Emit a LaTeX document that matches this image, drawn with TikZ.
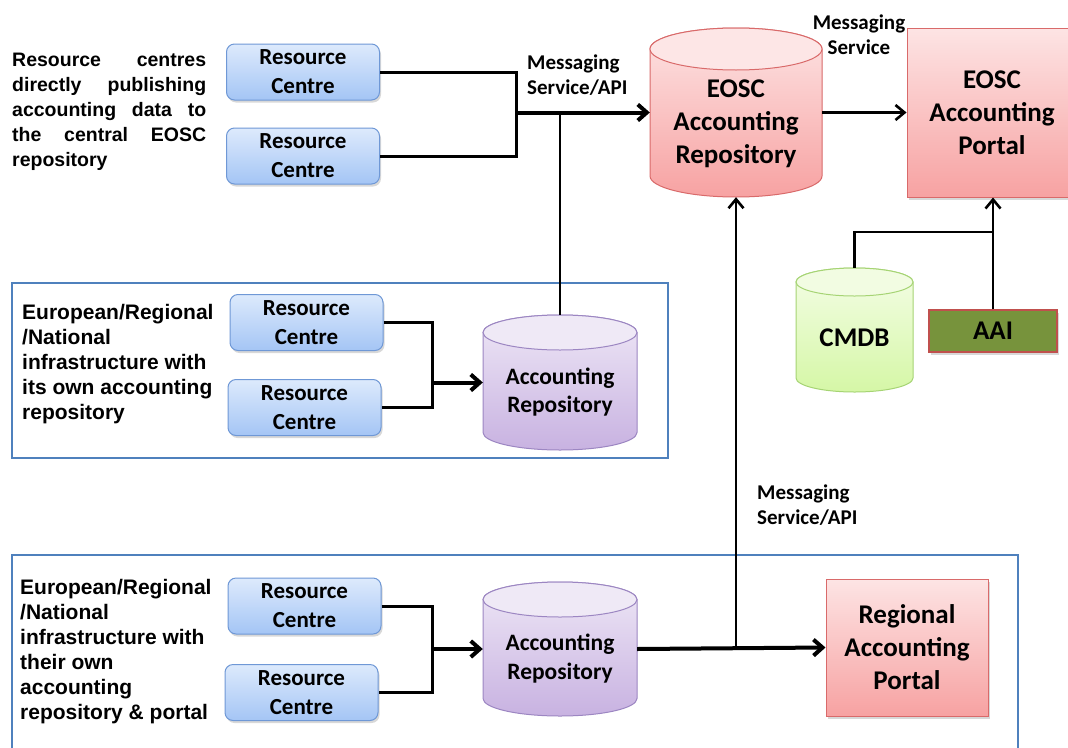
\documentclass[tikz,border=0pt]{standalone}
\usepackage{fontspec}
\setmainfont{Liberation Sans}
\newfontfamily\calfont{Carlito}
\usetikzlibrary{arrows.meta,shadows}
\definecolor{rcTop}{HTML}{DDEAFC}
\definecolor{rcBot}{HTML}{A4C5F5}
\definecolor{rcBorder}{HTML}{6F98D6}
\definecolor{pkTop}{HTML}{FDE4E4}
\definecolor{pkBot}{HTML}{F7A2A2}
\definecolor{pkCap}{HTML}{FDE6E6}
\definecolor{pkBorder}{HTML}{D96A6A}
\definecolor{grTop}{HTML}{F4FDE6}
\definecolor{grBot}{HTML}{D5F7A6}
\definecolor{grCap}{HTML}{F2FCE2}
\definecolor{grBorder}{HTML}{A6D474}
\definecolor{puTop}{HTML}{EEE7F6}
\definecolor{puBot}{HTML}{C8B2E1}
\definecolor{puCap}{HTML}{EFE9F6}
\definecolor{puBorder}{HTML}{9C86C2}
\definecolor{aaiFill}{HTML}{77933C}
\definecolor{aaiBorder}{HTML}{C0504D}
\definecolor{frameBlue}{HTML}{4F81BD}
\newcommand\cyldraw[6]{%
  \shade[top color=#6Top, bottom color=#6Bot, draw=#6Border, line width=1pt]
    (#1-#3, #2-#4+#5) -- (#1-#3, #2+#4-#5)
    arc[start angle=180, end angle=360, x radius=#3pt, y radius=#5pt]
    -- (#1+#3, #2-#4+#5)
    arc[start angle=0, end angle=180, x radius=#3pt, y radius=#5pt] -- cycle;
  \draw[fill=#6Cap, draw=#6Border, line width=1pt]
    (#1, #2-#4+#5) ellipse[x radius=#3pt, y radius=#5pt];
}
\tikzset{
  rcbox/.style={draw=rcBorder, line width=1pt, rounded corners=8pt,
    top color=rcTop, bottom color=rcBot, minimum width=153pt, minimum height=56pt,
    inner sep=0pt, align=center,
    font=\calfont\bfseries\fontsize{23}{29}\selectfont,
    drop shadow={opacity=0.3, shadow xshift=1.5pt, shadow yshift=-2.5pt}},
  cylarea/.style={inner sep=0pt, draw=none},
  bigtext/.style={align=center, inner sep=0pt, font=\calfont\bfseries\fontsize{27}{33}\selectfont},
  midtext/.style={align=center, inner sep=0pt, font=\calfont\bfseries\fontsize{23.5}{28.5}\selectfont},
  portalbox/.style={draw=pkBorder, line width=1pt, top color=pkTop, bottom color=pkBot,
    inner sep=0pt, align=center, font=\calfont\bfseries\fontsize{27}{33}\selectfont,
    drop shadow={opacity=0.3, shadow xshift=1.5pt, shadow yshift=-2.5pt}},
  msglabel/.style={align=left, inner sep=0pt, font=\calfont\bfseries\fontsize{21}{25}\selectfont},
  sidetext/.style={align=left, inner sep=0pt, font=\bfseries\fontsize{21}{25}\selectfont},
  frame/.style={draw=frameBlue, line width=2pt},
  conn/.style={line width=3pt, line join=miter},
  thickarr/.style={line width=4pt, -{Straight Barb[length=9pt,width=16pt]}},
  thinarr/.style={line width=2.6pt, -{Straight Barb[length=9pt,width=15pt]}},
  thinline/.style={line width=2.6pt},
}
\begin{document}
\begin{tikzpicture}[x=1pt,y=-1pt]
\useasboundingbox (0,0) rectangle (1068,747);
\fill[white] (0,0) rectangle (1068,747);

% frames
\draw[frame] (12,283) rectangle (668,458);
\draw[frame] (12,752) -- (12,555) -- (1018,555) -- (1018,752);

% ---------- top section ----------
\node[anchor=west, align=left, inner sep=0pt, font=\bfseries\fontsize{19.5}{25}\selectfont] (toptext) at (12,112) {%
\makebox[194pt][s]{Resource\hfill centres}\\
\makebox[194pt][s]{directly\hfill publishing}\\
\makebox[194pt][s]{accounting\hfill data\hfill to}\\
\makebox[194pt][s]{the\hfill central\hfill EOSC}\\
repository};

\node[rcbox] (rc1) at (303,72) {Resource\\Centre};
\node[rcbox] (rc2) at (303,156) {Resource\\Centre};

% EOSC accounting repository
\cyldraw{736}{112.5}{86}{84.5}{21}{pk}
\node[cylarea, minimum width=172pt, minimum height=169pt] (eosc) at (736,112.5) {};
\node[bigtext] (eosctext) at (736,124) {EOSC\\Accounting\\Repository};

% EOSC accounting portal
\node[portalbox, minimum width=170pt, minimum height=169pt] (portal) at (992,112.5) {EOSC\\Accounting\\Portal};

% CMDB
\cyldraw{854.5}{330}{58.5}{62}{14}{gr}
\node[cylarea, minimum width=117pt, minimum height=124pt] (cmdb) at (854.5,330) {};
\node[bigtext] (cmdbtext) at (854.5,338) {CMDB};

% AAI
\node[draw=aaiBorder, line width=1.2pt, fill=aaiFill, minimum width=128pt, minimum height=42pt,
  inner sep=0pt, font=\calfont\bfseries\fontsize{27}{33}\selectfont,
  drop shadow={opacity=0.3, shadow xshift=1.5pt, shadow yshift=-2.5pt}] (aai) at (993,331) {AAI};

% labels
\node[msglabel, anchor=west] (msg1) at (527,75.5) {Messaging\\Service/API};
\node[msglabel, align=center] (msg2) at (859,35) {Messaging\\Service};
\node[msglabel, anchor=west] (msg3) at (757,505) {Messaging\\Service/API};

% ---------- middle section ----------
\node[sidetext, anchor=west] (midtextl) at (22,364) {European/Regional\\/National\\infrastructure with\\its own accounting\\repository};
\node[rcbox] (rc3) at (306.5,322.5) {Resource\\Centre};
\node[rcbox] (rc4) at (304.5,407.5) {Resource\\Centre};
\cyldraw{560}{382.5}{77}{67.5}{17.5}{pu}
\node[cylarea, minimum width=154pt, minimum height=135pt] (acc1) at (560,382.5) {};
\node[midtext] (acc1text) at (560,392) {Accounting\\Repository};

% ---------- bottom section ----------
\node[sidetext, anchor=west] (bottextl) at (20,652) {European/Regional\\/National\\infrastructure with\\their own\\accounting\\repository \& portal};
\node[rcbox] (rc5) at (304.5,606) {Resource\\Centre};
\node[rcbox] (rc6) at (301.5,692.5) {Resource\\Centre};
\cyldraw{560}{649}{77}{67}{17.5}{pu}
\node[cylarea, minimum width=154pt, minimum height=134pt] (acc2) at (560,649) {};
\node[midtext] (acc2text) at (560,658.5) {Accounting\\Repository};
\node[portalbox, minimum width=162pt, minimum height=137pt] (regportal) at (907,647.5) {Regional\\Accounting\\Portal};

% ---------- connectors ----------
\coordinate (jt) at (516,112.5);
\draw[conn] (rc1.east) -| (jt) |- (rc2.east);
\draw[thickarr] (jt) -- (eosc.west);
\draw[thinline] (acc1.north) -- (acc1.north |- jt);
\draw[thinarr] (eosc.east) -- (portal.west);

\coordinate (cj) at (aai.north |- 0,232);
\draw[thinarr] (aai.north) -- (aai.north |- portal.south);
\draw[thinline] (cmdb.north) |- (cj);

\coordinate (jm) at (432,382.5);
\draw[conn] (rc3.east) -| (jm) |- (rc4.east);
\draw[thickarr] (jm) -- (acc1.west);

\coordinate (jb) at (432,649);
\draw[conn] (rc5.east) -| (jb) |- (rc6.east);
\draw[thickarr] (jb) -- (acc2.west);

\coordinate (jr) at (eosc.south |- acc2.east);
\draw[thickarr] (acc2.east) -- (regportal.west);
\draw[thinarr] (jr) -- (eosc.south);
\end{tikzpicture}
\end{document}
